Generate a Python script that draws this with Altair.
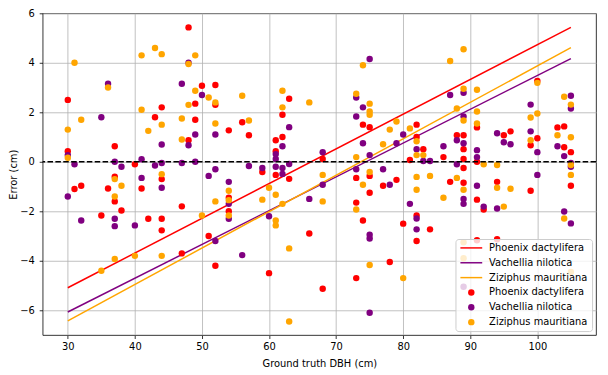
import altair as alt
import pandas as pd

# ---- data ----
species = ["Phoenix dactylifera", "Vachellia nilotica", "Ziziphus mauritiana"]
colors = ["#ff0000", "#800080", "#ffa500"]

red_x = [30, 30, 31, 32, 35, 36, 37, 37, 37, 38, 40, 41, 42, 43, 44, 44, 44, 44, 47, 47, 48, 48, 49, 49, 50, 51, 52, 52, 52, 54, 54, 54, 56, 57, 59, 60, 61, 61, 61, 62, 62, 63, 63, 66, 68, 68, 73, 73, 73, 74, 74, 75, 75, 75, 77, 78, 79, 80, 81, 82, 82, 82, 82, 83, 84, 86, 87, 88, 89, 89, 89, 89, 89, 91, 91, 91, 91, 92, 94, 94, 95, 96, 99, 99, 100, 100, 103, 104, 104, 105, 105]
red_y = [2.5, 0.43, -1.1, -0.97, -2.17, -1.08, 0.63, -0.6, -1.6, -1.97, -0.1, -1.08, -2.3, 1.8, 2.2, -0.7, -2.3, -2.77, -1.8, -3.7, 5.43, 0.87, 2.35, 1.7, 3.07, -3.0, 3.1, 2.3, -4.2, 1.27, -1.45, -2.0, 1.6, 1.07, -0.41, -4.5, 0.87, 0.43, -0.53, 1.9, 1.0, 2.55, -0.69, -2.9, 0.11, -5.13, -0.65, -1.65, -4.7, 1.5, -2.37, 1.4, -0.57, -1.25, -0.97, -4.05, -0.73, -2.5, 0.07, 1.5, 1.0, -2.17, -3.2, 0.51, -2.73, 0.19, -0.81, 1.07, 1.07, 0.51, 0.11, -0.25, -0.85, 1.39, 0.0, -1.53, -3.17, -1.93, -0.81, -3.13, 1.07, 1.23, 0.67, -1.17, 3.27, 0.95, 1.39, 1.43, 0.59, 0.39, -0.97]

purple_x = [30, 30, 31, 32, 35, 36, 37, 37, 37, 38, 40, 41, 41, 43, 44, 44, 44, 47, 47, 48, 48, 49, 49, 50, 51, 52, 52, 52, 54, 54, 54, 56, 57, 59, 60, 61, 61, 61, 62, 62, 62, 63, 63, 66, 68, 68, 73, 73, 73, 74, 74, 75, 75, 75, 75, 75, 77, 78, 79, 80, 81, 82, 82, 82, 83, 84, 86, 87, 88, 88, 89, 89, 89, 89, 89, 89, 91, 91, 91, 92, 94, 94, 95, 96, 99, 99, 100, 100, 103, 104, 104, 105, 105, 105, 105, 105]
purple_y = [0.27, -1.4, -0.1, -2.37, 1.8, 3.15, 0.0, -2.3, -2.6, -0.2, -2.57, 0.1, -0.65, -0.15, 0.7, -0.05, -1.05, 3.15, -0.05, 4.0, 0.67, 1.1, 0.0, 2.7, -0.57, 1.1, -0.3, -3.2, -0.81, -1.7, -2.3, -3.77, -0.17, -0.25, -2.2, 0.31, 0.11, -0.2, 0.63, -0.25, -0.49, 1.4, -0.09, -1.5, 0.39, -0.93, 2.6, 1.83, -0.3, 2.2, 0.75, 4.15, 0.27, -2.95, -3.1, -6.1, -0.3, -0.93, 0.75, 1.1, -1.7, 0.51, -2.29, -2.73, 0.03, 0.03, 0.63, 2.7, 0.87, -0.1, 2.79, 1.83, 0.75, -1.5, -1.7, -5.05, 0.47, 0.19, -0.97, -1.81, 1.15, -1.89, 0.79, 0.71, 2.31, 1.23, 0.39, -0.53, 0.63, 0.23, -2.01, 2.67, 2.15, -0.05, -0.2, -2.49]

orange_x = [30, 30, 31, 32, 35, 36, 37, 37, 37, 38, 40, 41, 41, 42, 43, 44, 44, 44, 44, 47, 47, 48, 48, 49, 49, 50, 51, 52, 52, 52, 54, 54, 54, 56, 57, 59, 60, 61, 61, 61, 62, 62, 62, 63, 63, 66, 68, 68, 73, 73, 73, 74, 74, 75, 75, 75, 75, 75, 77, 78, 79, 80, 81, 82, 82, 82, 82, 83, 84, 86, 87, 88, 88, 89, 89, 89, 89, 89, 89, 91, 91, 91, 92, 94, 94, 95, 96, 99, 99, 100, 100, 103, 104, 104, 105, 105, 105, 105, 105]
orange_y = [1.3, 0.16, 4.0, 1.7, -4.4, 3.0, -0.7, -1.4, -3.93, -0.97, -3.8, 4.3, 2.1, 1.25, 4.6, 4.35, 1.5, -0.5, -3.8, 1.75, 0.9, 3.95, 2.3, 4.3, 2.87, -2.17, 2.6, 2.4, 1.55, -1.6, -1.17, -1.55, -2.17, 2.67, 1.67, -1.53, -1.05, -1.33, -2.37, -2.57, 2.87, 2.2, -1.7, -3.5, -6.45, 2.4, -0.53, -1.6, 2.75, 0.19, -1.93, 3.9, -0.93, 2.35, 2.03, 1.9, -0.41, -4.17, 0.71, 1.3, 1.63, -4.7, 1.35, 0.83, 0.27, -0.61, -1.13, 0.27, -0.57, -1.45, 4.07, 2.15, -0.65, 4.55, 2.95, 1.67, -1.13, -3.25, -3.9, 2.91, 2.03, 1.55, -0.1, -0.13, -1.05, -1.81, -1.09, 1.79, 0.87, 3.19, 1.95, 1.07, 2.63, -2.29, 2.31, 0.99, -0.13, -0.53, -4.45]

# fitted line end points
line_x = [30, 105]
red_line = [-5.09, 5.43]
purple_line = [-6.07, 4.17]
orange_line = [-6.43, 4.61]

zero_level = [0.0]

x_ticks = [30, 40, 50, 60, 70, 80, 90, 100]
y_ticks = [-6, -4, -2, 0, 2, 4, 6]

# ---- build tables ----
line_keys = [s + "|line" for s in species]
pt_keys = [s + "|pt" for s in species]
all_keys = line_keys + pt_keys

pts = []
for key, xs, ys in zip(pt_keys, [red_x, purple_x, orange_x], [red_y, purple_y, orange_y]):
    for a, b in zip(xs, ys):
        pts.append({"x": a, "y": b, "series": key, "order": pt_keys.index(key)})
pts_df = pd.DataFrame(pts)

lines = []
for key, ys in zip(line_keys, [red_line, purple_line, orange_line]):
    for a, b in zip(line_x, ys):
        lines.append({"x": a, "y": b, "series": key})
lines_df = pd.DataFrame(lines)

zero_df = pd.DataFrame({"y": zero_level})

LINE_SYM = "M-3.4,-0.23H3.4V0.23H-3.4Z"

x_scale = alt.Scale(domain=[26.25, 108.75], nice=False, zero=False)
y_scale = alt.Scale(domain=[-7, 6], nice=False, zero=False)
color_scale = alt.Scale(domain=all_keys, range=colors + colors)
shape_scale = alt.Scale(domain=all_keys, range=[LINE_SYM] * 3 + ["circle"] * 3)

legend = alt.Legend(
    title=None,
    orient="none",
    legendX=417,
    legendY=228,
    labelExpr="split(datum.label, '|')[0]",
    labelFontSize=10,
    labelFont="DejaVu Sans",
    labelColor="black",
    symbolSize=42,
    symbolOffset=7,
    labelOffset=13,
    padding=4,
    rowPadding=5,
    fillColor="rgba(255,255,255,0.8)",
    strokeColor="#cccccc",
    cornerRadius=3,
    symbolStrokeWidth=0,
    symbolOpacity=1,
)

x_axis = alt.Axis(values=x_ticks, title="Ground truth DBH (cm)", titlePadding=7)
y_axis = alt.Axis(values=y_ticks, title="Error (cm)", titlePadding=1, labelPadding=5,
                  labelExpr="replace(datum.label, '-', '\u2212')")

line_layer = alt.Chart(lines_df).mark_line(strokeWidth=1.5).encode(
    x=alt.X("x:Q", scale=x_scale, axis=x_axis),
    y=alt.Y("y:Q", scale=y_scale, axis=y_axis),
    color=alt.Color("series:N", scale=color_scale, legend=legend),
    detail="series:N",
)

point_layer = alt.Chart(pts_df).mark_point(filled=True, size=42, opacity=1, strokeWidth=0).encode(
    x=alt.X("x:Q", scale=x_scale),
    y=alt.Y("y:Q", scale=y_scale),
    color=alt.Color("series:N", scale=color_scale, legend=legend),
    shape=alt.Shape("series:N", scale=shape_scale, legend=legend),
    order=alt.Order("order:Q"),
)

zero_layer = alt.Chart(zero_df).mark_rule(color="black", strokeWidth=1.5, strokeDash=[5.55, 2.4]).encode(
    y=alt.Y("y:Q", scale=y_scale),
)

chart = alt.layer(line_layer, point_layer, zero_layer).properties(
    width=559,
    height=325,
    padding={"left": 35, "top": 3.5, "right": 4, "bottom": 36},
    autosize=alt.AutoSizeParams(type="none"),
).configure_view(
    stroke="black", strokeWidth=0.8
).configure_axis(
    grid=True,
    gridColor="#b0b0b0",
    gridWidth=0.8,
    domain=False,
    tickColor="black",
    tickSize=3.5,
    tickWidth=0.8,
    labelPadding=3.5,
    labelFont="DejaVu Sans",
    labelFontSize=10,
    labelColor="black",
    titleFont="DejaVu Sans",
    titleFontSize=10,
    titleFontWeight="normal",
    titleColor="black",
)

chart.save("out.html", embed_options={"renderer": "svg", "actions": False})
